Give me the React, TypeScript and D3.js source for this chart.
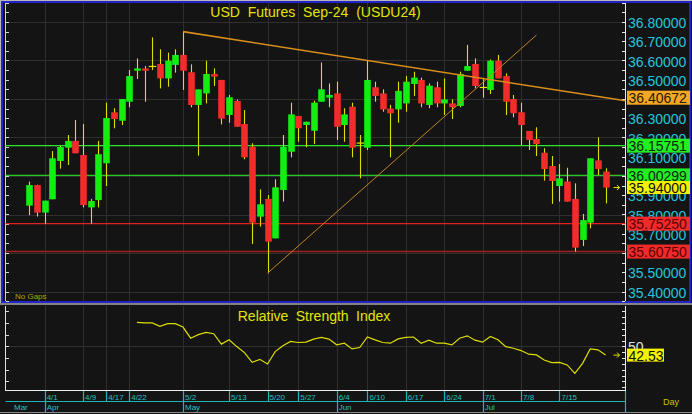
import React from "react";
import * as d3 from "d3";

const opens = [35.846,35.953,35.810,35.879,36.078,36.147,36.182,36.109,35.837,35.875,36.066,36.331,36.287,36.386,36.547,36.559,36.567,36.582,36.507,36.577,36.629,36.539,36.369,36.429,36.530,36.499,36.317,36.390,36.270,36.152,35.789,35.881,35.676,35.927,36.126,36.312,36.265,36.235,36.386,36.407,36.429,36.265,36.360,36.169,36.147,36.461,36.429,36.350,36.346,36.377,36.478,36.499,36.369,36.461,36.377,36.377,36.364,36.547,36.582,36.458,36.447,36.599,36.519,36.400,36.331,36.234,36.192,36.121,36.052,35.948,35.971,35.881,35.668,35.758,36.081,36.023];
const highs = [35.971,35.955,35.872,36.130,36.156,36.213,36.291,36.270,35.881,36.182,36.381,36.352,36.400,36.551,36.611,36.571,36.720,36.658,36.641,36.658,36.750,36.580,36.450,36.599,36.559,36.499,36.421,36.398,36.343,36.170,35.931,35.901,35.983,36.213,36.381,36.312,36.282,36.391,36.590,36.481,36.490,36.352,36.381,36.213,36.599,36.490,36.450,36.369,36.490,36.519,36.542,36.511,36.481,36.490,36.507,36.398,36.542,36.681,36.611,36.507,36.605,36.629,36.533,36.421,36.381,36.234,36.253,36.144,36.104,36.062,36.043,35.962,35.803,36.092,36.201,36.040];
const lows = [35.797,35.789,35.751,35.879,36.038,36.057,36.118,35.837,35.751,35.837,35.948,36.248,36.265,36.357,36.504,36.386,36.551,36.455,36.464,36.537,36.447,36.357,36.106,36.377,36.468,36.268,36.277,36.256,36.087,35.647,35.737,35.495,35.676,35.867,36.097,36.178,36.149,36.166,36.386,36.357,36.187,36.178,36.097,35.988,36.135,36.386,36.334,36.097,36.277,36.334,36.416,36.357,36.352,36.357,36.317,36.296,36.357,36.547,36.455,36.407,36.426,36.507,36.317,36.305,36.161,36.135,36.104,35.976,35.855,35.867,35.867,35.6075,35.636,35.728,36.005,35.858];
const closes = [35.953,35.810,35.872,36.092,36.151,36.182,36.118,35.849,35.870,36.113,36.301,36.296,36.400,36.519,36.559,36.547,36.569,36.507,36.599,36.629,36.547,36.369,36.450,36.530,36.516,36.298,36.409,36.256,36.097,35.758,35.853,35.659,35.941,36.152,36.320,36.248,36.282,36.381,36.450,36.421,36.256,36.320,36.147,36.171,36.499,36.416,36.346,36.326,36.442,36.490,36.511,36.377,36.469,36.377,36.398,36.357,36.530,36.571,36.468,36.460,36.599,36.507,36.386,36.326,36.265,36.187,36.166,36.036,35.974,35.988,35.867,35.628,35.771,36.092,36.036,35.940];

const rsiStartIndex = 14;
const rsiValues = [70.5,70.0,70.0,67.1,69.4,69.4,66.5,57.0,60.0,61.9,60.8,51.9,55.6,49.8,44.7,36.3,38.9,34.9,45.5,50.5,54.2,53.3,53.6,56.2,57.6,56.2,51.3,52.7,47.8,49.0,58.0,55.5,53.3,52.7,56.4,57.6,58.0,52.7,55.3,52.7,52.7,51.3,57.0,59.0,55.3,53.6,58.4,55.6,49.8,48.4,46.4,43.3,42.7,38.3,36.1,36.3,34.1,26.9,35.5,47.8,47.0,42.53];

const dateTickIndex = [2,7,10,13,20,26,31,35,40,44,49,54,59,64,69];
const dateTickLabels = ["4/1","4/9","4/17","4/22","5/2","5/13","5/20","5/27","6/4","6/10","6/17","6/24","7/1","7/8","7/15"];
const monthLabels = ["Mar","Apr","May","Jun","Jul"];
const monthStartIndex = [-2,2,20,40,59];

const priceTickLabels = [35.4,35.5,35.6,35.7,35.8,35.9,36.0,36.1,36.2,36.3,36.4,36.5,36.6,36.7,36.8];
const priceGridValues = [35.4,35.6,35.8,36.0,36.2,36.4,36.6,36.8];
const rsiGridValues = [50];

const levelValues = [36.15751,36.00299,35.7525,35.6075];
const levelColors = ["#2ee62e","#25c825","#e02222","#a42020"];
const levelBoxColors = ["#22ee22","#22ee22","#f02a2a","#f02a2a"];
const levelTextColors = ["#062806","#062806","#5a0000","#5a0000"];

const trendDownIdx = [20,75];
const trendDownPrice = [36.75,36.40672];
const trendUpIdx = [31,66];
const trendUpPrice = [35.495,36.732];

const lastClose = 35.94;
const lastRsi = 42.53;

const FONT = "'Liberation Sans', Arial, sans-serif";

export default function App() {
  const W = 692, H = 414;
  const plotL = 5.5, plotR = 625.5;
  const x = d3.scaleLinear().domain([0, 75]).range([29.3, 605.6]);
  const y = d3.scaleLinear().domain([35.4, 36.8]).range([291.5, 22]);
  const ry = d3.scaleLinear().domain([12.1, 84.5]).range([390.7, 306]);
  const bw = 6.6;

  const priceMinorTicks = d3.range(0, 32).map((k) => 35.35 + k * 0.05);
  const rsiRightTicks = d3.range(15, 85, 5);
  const rsiLeftTicks = d3.range(20, 90, 10);

  // labels fully covered by the highlighted value boxes are not drawn
  const boxCenters = [trendDownPrice[1], ...levelValues, lastClose].map((v) => y(v));
  const visibleTickLabels = priceTickLabels.filter((v) => boxCenters.every((c) => Math.abs(y(v) - c) > 7));

  const extend = (idx: number[], pr: number[], xEnd: number) => {
    const iEnd = x.invert(xEnd);
    const pEnd = pr[0] + ((pr[1] - pr[0]) * (iEnd - idx[0])) / (idx[1] - idx[0]);
    return { x1: x(idx[0]), y1: y(pr[0]), x2: xEnd, y2: y(pEnd) };
  };
  const tdown = extend(trendDownIdx, trendDownPrice, plotR);
  const tup = { x1: x(trendUpIdx[0]), y1: y(trendUpPrice[0]), x2: x(trendUpIdx[1]), y2: y(trendUpPrice[1]) };

  const rsiLine = d3
    .line<number>()
    .x((_, i) => x(i + rsiStartIndex))
    .y((d) => ry(d));

  const arrow = (ay: number) => `M613.5,${ay} H619.5 M617,${ay - 2.5} L619.5,${ay} L617,${ay + 2.5}`;

  return (
    <svg width={W} height={H} style={{ position: "absolute", left: 0, top: 0, display: "block" }} fontFamily={FONT}>
      <rect x={0} y={0} width={W} height={H} fill="#141414" />
      {/* frames */}
      <line x1={0} y1={0.5} x2={W} y2={0.5} stroke="#b8b8b8" />
      <rect x={2} y={2} width={688} height={300} fill="none" stroke="#2323c8" strokeWidth={2} />
      <line x1={0.5} y1={0} x2={0.5} y2={303} stroke="#b8b8b8" />
      <line x1={0} y1={304} x2={W} y2={304} stroke="#a8a8a8" strokeWidth={1.5} />
      <line x1={0} y1={412.5} x2={W} y2={412.5} stroke="#8a8a8a" />

      {/* top panel grid */}
      {priceGridValues.map((v) => (
        <line key={"pg" + v} x1={plotL} x2={plotR} y1={Math.round(y(v)) + 0.5} y2={Math.round(y(v)) + 0.5} stroke="#2f2f2f" />
      ))}
      {dateTickIndex.map((i) => (
        <line key={"vg" + i} x1={Math.round(x(i)) + 0.5} x2={Math.round(x(i)) + 0.5} y1={3} y2={301} stroke="#2f2f2f" />
      ))}

      {/* axes top panel */}
      <line x1={plotL} x2={plotL} y1={3} y2={301} stroke="#cfcfcf" />
      <line x1={plotR} x2={plotR} y1={3} y2={301} stroke="#e8e8e8" />
      {priceMinorTicks.map((v) => (
        <g key={"pt" + v}>
          <line x1={6} x2={9} y1={Math.round(y(v)) + 0.5} y2={Math.round(y(v)) + 0.5} stroke="#d8d8d8" />
          <line x1={622} x2={625} y1={Math.round(y(v)) + 0.5} y2={Math.round(y(v)) + 0.5} stroke="#e8e8e8" />
        </g>
      ))}
      {visibleTickLabels.map((v) => (
        <text key={"pl" + v} x={628} y={y(v) + 6} fontSize={14} fill="#26c3dc">
          {v.toFixed(5)}
        </text>
      ))}

      {/* level lines */}
      {levelValues.map((v, i) => (
        <line key={"lv" + i} x1={plotL} x2={plotR} y1={y(v)} y2={y(v)} stroke={levelColors[i]} strokeWidth={i === 3 ? 1.6 : 1.2} />
      ))}

      {/* candles */}
      {opens.map((o, i) => {
        const c = closes[i];
        const cx = Math.round(x(i)) + 0.5;
        const doji = Math.abs(o - c) < 0.005;
        const top = y(Math.max(o, c));
        const bot = y(Math.min(o, c));
        return (
          <g key={"c" + i}>
            <line x1={cx} x2={cx} y1={y(highs[i])} y2={y(lows[i])} stroke="#dede00" strokeWidth={1.1} />
            {doji ? (
              <line x1={cx - bw / 2 - 0.5} x2={cx + bw / 2 + 0.5} y1={y(c)} y2={y(c)} stroke="#e6e600" strokeWidth={1.2} />
            ) : (
              <rect x={cx - bw / 2} y={top} width={bw} height={Math.max(bot - top, 1.5)} fill={c > o ? "#12ee12" : "#f22b2b"} />
            )}
          </g>
        );
      })}

      {/* trendlines */}
      <line {...tdown} stroke="#d98e1a" strokeWidth={1.6} />
      <line {...tup} stroke="#c08426" strokeWidth={1} />

      {/* title */}
      <text x={315.5} y={16.7} textAnchor="middle" fontSize={14} fill="#e4e400" wordSpacing={4}>
        USD Futures Sep-24 (USDU24)
      </text>
      <text x={15} y={299} fontSize={8} fill="#a8a800">No Gaps</text>

      {/* level boxes */}
      <rect x={627} y={y(trendDownPrice[1]) - 7} width={63} height={14} fill="#f5a623" />
      <text x={628.5} y={y(trendDownPrice[1]) + 5.5} fontSize={14} fill="#2a1800">{trendDownPrice[1].toFixed(5)}</text>
      {levelValues.map((v, i) => (
        <g key={"lb" + i}>
          <rect x={627} y={y(v) - 7} width={63} height={14} fill={levelBoxColors[i]} />
          <text x={628.5} y={y(v) + 5.5} fontSize={14} fill={levelTextColors[i]}>{v.toFixed(5)}</text>
        </g>
      ))}
      <rect x={627} y={y(lastClose) - 6.5} width={63} height={13} fill="#f2f200" />
      <text x={628.5} y={y(lastClose) + 5.5} fontSize={14} fill="#101010">{lastClose.toFixed(5)}</text>
      <path d={arrow(y(lastClose))} stroke="#e6e600" fill="none" strokeWidth={1} />

      {/* RSI panel */}
      {rsiGridValues.map((v) => (
        <line key={"rg" + v} x1={plotL} x2={plotR} y1={Math.round(ry(v)) + 0.5} y2={Math.round(ry(v)) + 0.5} stroke="#303030" />
      ))}
      {dateTickIndex.map((i) => (
        <line key={"rvg" + i} x1={Math.round(x(i)) + 0.5} x2={Math.round(x(i)) + 0.5} y1={306} y2={390} stroke="#2f2f2f" />
      ))}
      <line x1={plotL} x2={plotL} y1={306} y2={391} stroke="#e0e0e0" />
      <line x1={plotR} x2={plotR} y1={306} y2={391} stroke="#e8e8e8" />
      {rsiLeftTicks.map((v) => (
        <line key={"rlt" + v} x1={6} x2={9} y1={Math.round(ry(v)) + 0.5} y2={Math.round(ry(v)) + 0.5} stroke="#d8d8d8" />
      ))}
      {rsiRightTicks.map((v) => (
        <line key={"rrt" + v} x1={622} x2={625} y1={Math.round(ry(v)) + 0.5} y2={Math.round(ry(v)) + 0.5} stroke="#e8e8e8" />
      ))}
      <path d={rsiLine(rsiValues) || ""} fill="none" stroke="#dcdc00" strokeWidth={1.2} />
      <text x={314} y={320.7} textAnchor="middle" fontSize={14} fill="#e4e400" wordSpacing={3.5}>
        Relative Strength Index
      </text>
      <text x={628} y={ry(50) + 5.5} fontSize={14} fill="#e0e0e0">50</text>
      <rect x={627} y={ry(lastRsi) - 6.5} width={37} height={13} fill="#f2f200" />
      <text x={628.5} y={ry(lastRsi) + 5.5} fontSize={14} fill="#101010">{lastRsi.toFixed(2)}</text>
      <path d={arrow(ry(lastRsi))} stroke="#e6e600" fill="none" strokeWidth={1} />

      {/* date axis */}
      <line x1={plotL} x2={plotR + 0.5} y1={390.5} y2={390.5} stroke="#f0f0f0" />
      <line x1={plotL} x2={plotR} y1={401.5} y2={401.5} stroke="#1fb5b5" strokeWidth={1.2} />
      <line x1={plotR} x2={plotR} y1={391} y2={412} stroke="#1fb5b5" strokeWidth={1.2} />
      {dateTickIndex.map((i, k) => (
        <g key={"dt" + i}>
          <line x1={Math.round(x(i)) + 0.5} x2={Math.round(x(i)) + 0.5} y1={391} y2={401} stroke="#1fb5b5" strokeWidth={1.2} />
          <text x={x(i) + 2} y={400} fontSize={8} fill="#22c0c0">{dateTickLabels[k]}</text>
        </g>
      ))}
      {monthStartIndex.map((i, k) => (
        <g key={"mt" + k}>
          {i >= 0 && (
            <line x1={Math.round(x(i)) + 0.5} x2={Math.round(x(i)) + 0.5} y1={401} y2={412} stroke="#1fb5b5" strokeWidth={1.2} />
          )}
          <text x={i >= 0 ? x(i) + 2 : 14} y={410} fontSize={8} fill="#22c0c0">{monthLabels[k]}</text>
        </g>
      ))}
      <text x={663} y={405} fontSize={9} fill="#cbc000">Day</text>
    </svg>
  );
}
